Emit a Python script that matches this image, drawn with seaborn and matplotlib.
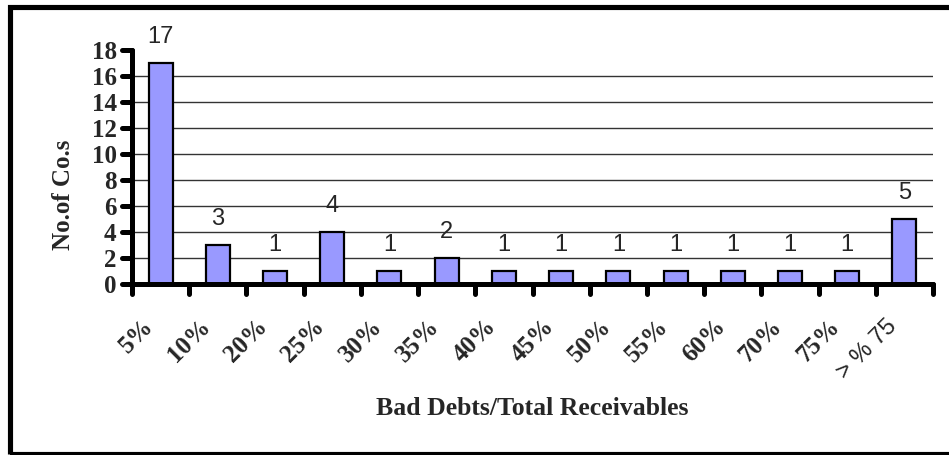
import matplotlib
matplotlib.use("Agg")
import matplotlib.pyplot as plt
import matplotlib.transforms as mtransforms
from matplotlib.markers import MarkerStyle, TICKLEFT, TICKDOWN
from matplotlib.patches import Rectangle
import seaborn as sns

# data
categories = ['5%', '10%', '20%', '25%', '30%', '35%', '40%', '45%',
              '50%', '55%', '60%', '70%', '75%', '> % 75']
companies = [17, 3, 1, 4, 1, 2, 1, 1, 1, 1, 1, 1, 1, 5]
y_ticks = [0, 2, 4, 6, 8, 10, 12, 14, 16, 18]

sns.set_style('white')
serif = ['Liberation Serif', 'DejaVu Serif']
sans = ['Liberation Sans', 'DejaVu Sans']

fig = plt.figure(figsize=(9.49, 4.55), dpi=100)
ax = fig.add_axes([132 / 949, 1 - 284 / 455, 801 / 949, 234 / 455])

sns.barplot(x=categories, y=companies, color='#9999FF', saturation=1,
            edgecolor='black', linewidth=1.6, width=0.42, ax=ax)

ax.set_ylim(0, 18)
ax.set_xlim(-0.5, len(categories) - 0.5)

# value labels above bars
for bar, v in zip(ax.patches, companies):
    ax.annotate(str(v), (bar.get_x() + bar.get_width() / 2, bar.get_height()),
                xytext=(0, 11), textcoords='offset points', ha='center',
                va='bottom', fontsize=17, family=sans)

# spines
for s in ['top', 'right']:
    ax.spines[s].set_visible(False)
for s in ['left', 'bottom']:
    ax.spines[s].set_linewidth(3.6)
    ax.spines[s].set_capstyle('round')
    ax.spines[s].set_color('black')

# gridlines (none at top)
ax.set_yticks(y_ticks)
ax.yaxis.grid(True, color='#333333', linewidth=1.0)
ax.set_axisbelow(True)
ax.get_ygridlines()[-1].set_visible(False)

ax.set_yticklabels([str(t) for t in y_ticks], fontsize=18,
                   fontweight='bold', family=serif)
ax.tick_params(axis='y', direction='out', length=7, width=3.6,
               color='black', pad=4, left=True)
for t in ax.yaxis.get_major_ticks():
    t.tick1line.set_marker(MarkerStyle(TICKLEFT, capstyle='round'))

# x: boundaries as minor ticks, labels at category centres
ax.set_xticks([i - 0.5 for i in range(len(categories) + 1)], minor=True)
ax.tick_params(axis='x', which='minor', direction='out', length=7,
               width=3.6, color='black', bottom=True)
for t in ax.xaxis.get_minor_ticks():
    t.tick1line.set_marker(MarkerStyle(TICKDOWN, capstyle='round'))
ax.tick_params(axis='x', which='major', length=0, pad=28)
ax.set_xticks(range(len(categories)))
ax.set_xticklabels(categories, rotation=45, ha='right', va='center',
                   rotation_mode='anchor', fontsize=18, fontweight='bold',
                   family=serif)
shift = mtransforms.ScaledTranslation(-11 / 100, 0, fig.dpi_scale_trans)
for lab in ax.get_xticklabels():
    lab.set_transform(lab.get_transform() + shift)
last = ax.get_xticklabels()[-1]
last.set_fontweight('normal')
last.set_family(sans)
last.set_fontsize(17)

ax.set_xlabel('Bad Debts/Total Receivables', fontsize=18.5,
              fontweight='bold', family=serif)
ax.set_ylabel('No.of Co.s', fontsize=18, fontweight='bold', family=serif)
ax.xaxis.set_label_coords(0.5, -0.485)
ax.yaxis.set_label_coords(-0.071, 0.38)

# outer frame
fig.patches.append(Rectangle((9.7 / 949, 1 - 453.5 / 455),
                             1.2, (453.5 - 6.8) / 455,
                             transform=fig.transFigure, fill=False,
                             edgecolor='black', linewidth=3.7,
                             clip_on=False))

fig.savefig('out.png', dpi=100)
